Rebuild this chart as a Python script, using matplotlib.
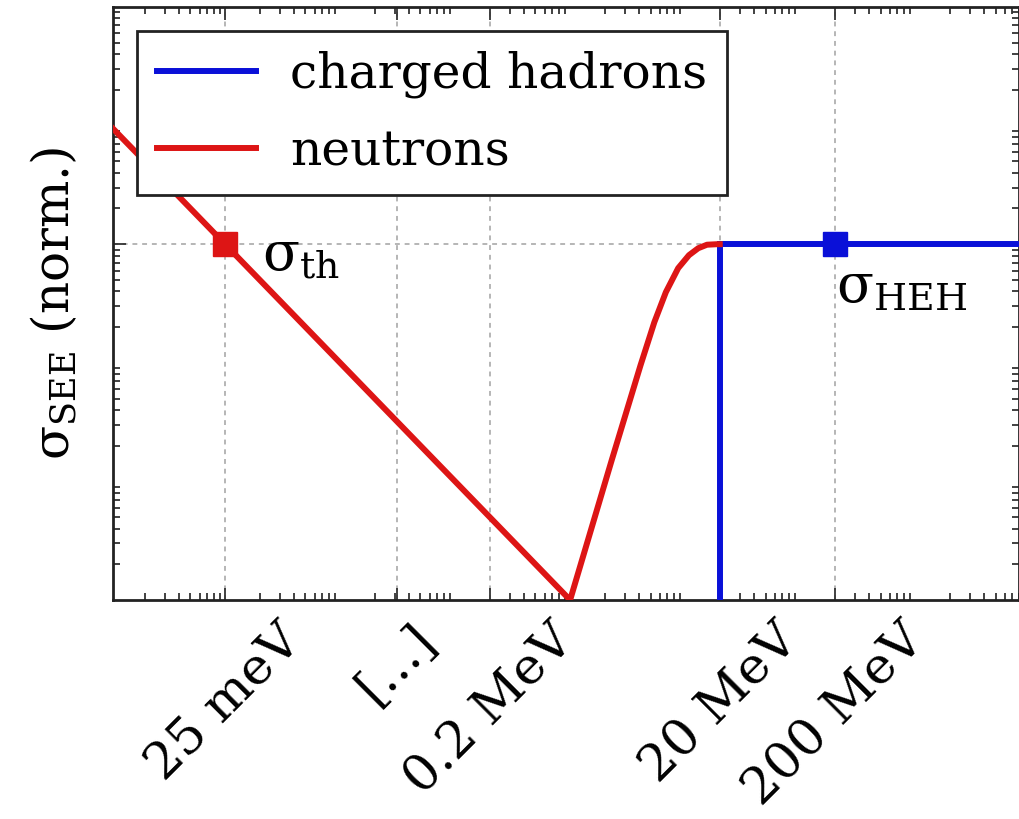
import matplotlib
matplotlib.use("Agg")
import matplotlib.pyplot as plt
from matplotlib.ticker import LogLocator, NullFormatter

plt.rcParams['font.family'] = ['DejaVu Serif']
plt.rcParams['mathtext.fontset'] = 'dejavuserif'

# Energy axis (eV, with a compressed low-energy part) and normalised SEE cross-section
tick_positions = [1e3, 3.1e4, 2e5, 2e7, 2e8]
tick_labels = ['25 meV', '[...]', '0.2 MeV', '20 MeV', '200 MeV']

neutron_energy = [106, 1e3, 1e6, 2.3e6, 4.1e6, 5.4e6, 6.8e6, 8.7e6, 1.08e7,
                  1.30e7, 1.55e7, 1.9e7, 2e7]
neutron_sigma = [9.43, 1.0, 1e-3, 0.0151, 0.0957, 0.220, 0.394, 0.628, 0.808,
                 0.925, 0.99, 1.0, 1.0]

hadron_energy = [2e7, 2e7, 1e10]
hadron_sigma = [1e-4, 1.0, 1.0]

sigma_th_point = (1e3, 1.0)
sigma_heh_point = (2e8, 1.0)

red = '#dd1515'
blue = '#0a10d8'
fs_tick = 37
fs_leg = 35
fs_lab = 36

fig = plt.figure(figsize=(10.2, 8.19), dpi=100)
ax = fig.add_axes([113 / 1020, 1 - 600 / 819, (1019 - 113) / 1020, (600 - 7) / 819])
ax.set_xscale('log')
ax.set_yscale('log')

ax.plot(hadron_energy, hadron_sigma, color=blue, lw=4.3, label='charged hadrons',
        solid_joinstyle='miter', zorder=3)
ax.plot(neutron_energy, neutron_sigma, color=red, lw=4.3, label='neutrons', zorder=4)
ax.plot(*sigma_th_point, 's', color=red, ms=17, mec=red, zorder=5)
ax.plot(*sigma_heh_point, 's', color=blue, ms=17, mec=blue, zorder=5)

ax.set_xlim(106, 8.0e9)
ax.set_ylim(1e-3, 1e2)

ax.set_xticks(tick_positions)
ax.set_xticklabels(tick_labels, rotation=45, ha='center', fontsize=fs_tick)
ax.xaxis.set_minor_locator(LogLocator(base=10, subs=range(2, 10)))
ax.xaxis.set_minor_formatter(NullFormatter())
ax.set_yticks([1.0])
ax.set_yticklabels([''])
ax.yaxis.set_minor_locator(LogLocator(base=10, subs=range(2, 10)))
ax.yaxis.set_minor_formatter(NullFormatter())

ax.tick_params(which='both', direction='in', top=True, right=True, width=1.3, color='#333333')
ax.tick_params(which='major', length=9, pad=11)
ax.tick_params(which='minor', length=5)

ax.grid(True, which='major', color='#b5b5b5', linestyle=(0, (2.5, 2.5)), lw=1.4)
for s in ax.spines.values():
    s.set_linewidth(2.0)
    s.set_color('#222222')

ax.set_ylabel(r'σ$_{\mathrm{SEE}}$ (norm.)', fontsize=fs_lab, labelpad=12)

ax.text(2.1e3, 0.60, r'σ$_{\mathrm{th}}$', fontsize=fs_lab + 3, va='baseline', ha='left')
ax.text(2.05e8, 0.32, r'σ$_{\mathrm{HEH}}$', fontsize=fs_lab + 3, va='baseline', ha='left')

leg = ax.legend(loc='upper left', fontsize=fs_leg, frameon=True, fancybox=False,
                edgecolor='#222222', handlelength=2.05, handletextpad=0.7,
                borderpad=0.4, labelspacing=0.62, borderaxespad=0.5)
leg.get_frame().set_linewidth(2.0)
leg.get_frame().set_alpha(1.0)

fig.savefig('out.png', dpi=100)
